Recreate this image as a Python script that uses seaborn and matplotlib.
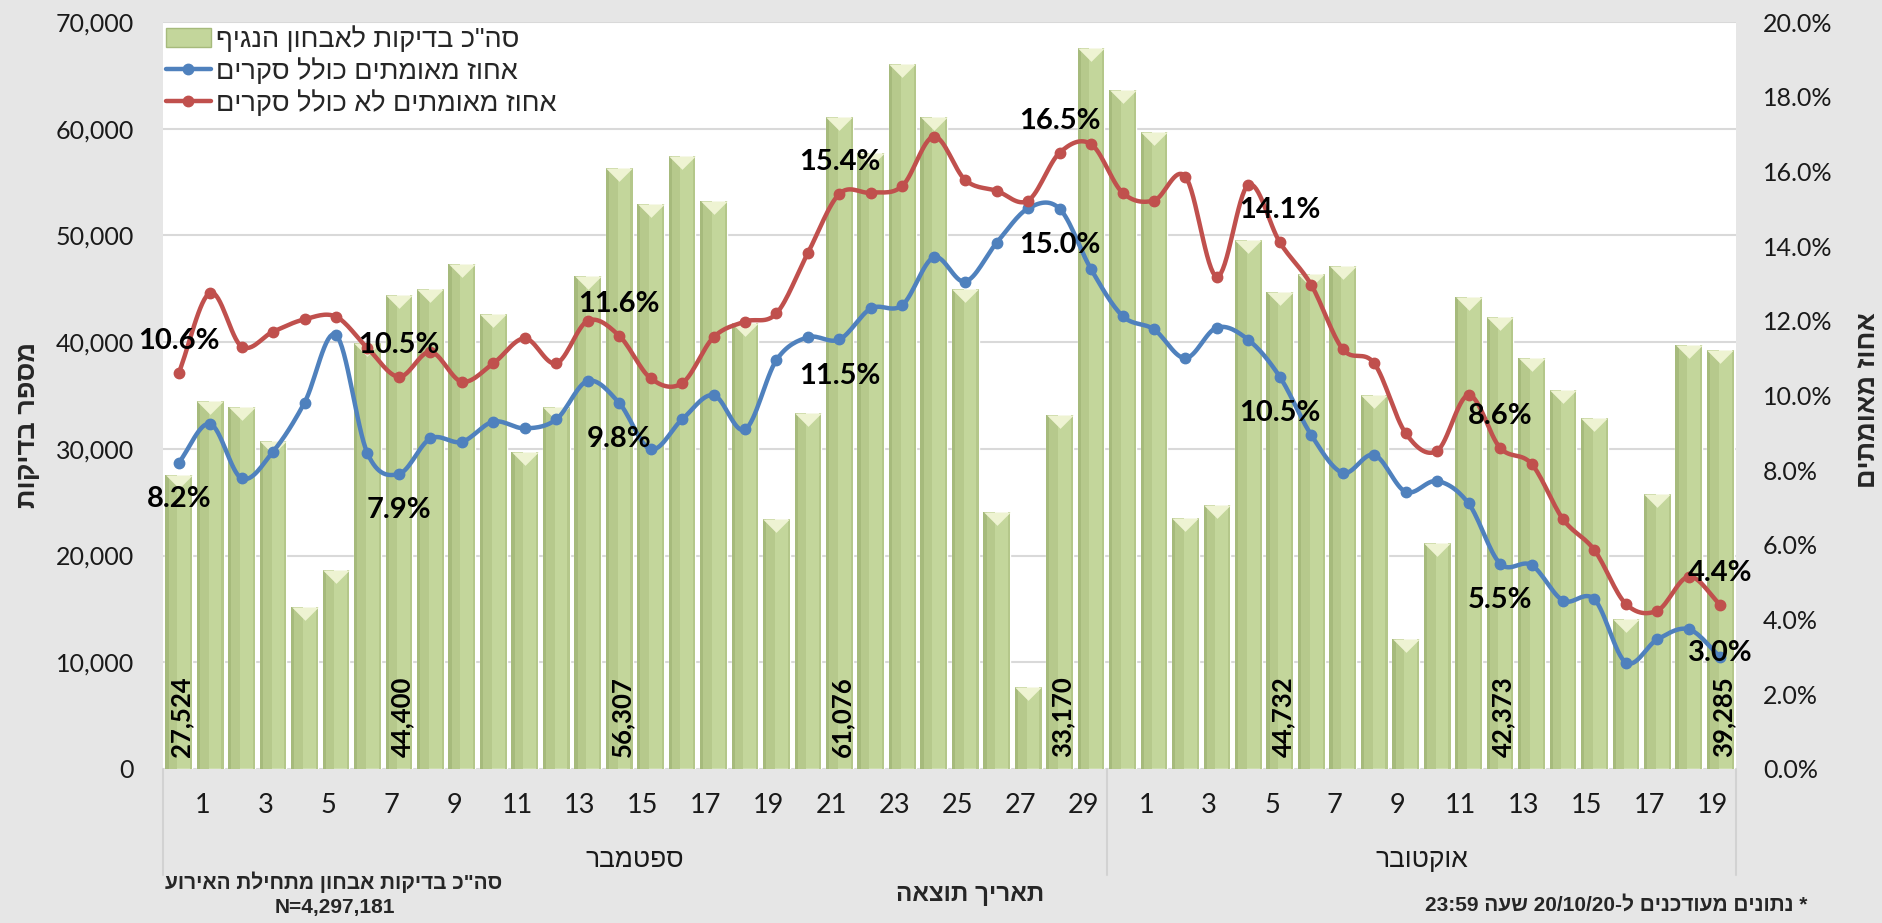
import re
import numpy as np
import matplotlib
matplotlib.use("Agg")
import matplotlib.pyplot as plt
import matplotlib.transforms as mtransforms
from matplotlib.patches import Patch
from matplotlib.lines import Line2D
from matplotlib.font_manager import FontProperties
import seaborn as sns

# ---------------- data ----------------
months = ["ספטמבר", "אוקטובר"]
month_days = [30, 20]

tests = [27524, 34500, 33900, 30700, 15200, 18650, 39900, 44400, 45000, 47300,
         42600, 29700, 33900, 46200, 56307, 52900, 57400, 53200, 41800, 23400,
         33400, 61076, 57700, 66100, 61100, 45000, 24100, 7650, 33170, 67600,
         63600, 59700, 23500, 24700, 49600, 44732, 46400, 47100, 35050, 12200,
         21200, 44200, 42373, 38500, 35500, 32900, 14100, 25800, 39700, 39285]

pct_excl_surveys = [10.6, 12.75, 11.31, 11.71, 12.04, 12.11, 11.27, 10.5, 11.17, 10.37,
                    10.86, 11.53, 10.86, 12.0, 11.6, 10.46, 10.33, 11.56, 11.98, 12.2,
                    13.82, 15.4, 15.43, 15.61, 16.93, 15.77, 15.48, 15.22, 16.5, 16.73,
                    15.43, 15.22, 15.86, 13.18, 15.64, 14.1, 12.96, 11.24, 10.86, 8.99,
                    8.52, 10.01, 8.6, 8.17, 6.69, 5.86, 4.42, 4.24, 5.15, 4.4]

pct_incl_surveys = [8.2, 9.24, 7.78, 8.5, 9.81, 11.62, 8.45, 7.9, 8.85, 8.76,
                    9.3, 9.12, 9.36, 10.39, 9.8, 8.56, 9.36, 10.01, 9.09, 10.95,
                    11.56, 11.5, 12.33, 12.42, 13.7, 13.05, 14.09, 15.01, 15.0, 13.38,
                    12.13, 11.77, 11.0, 11.82, 11.49, 10.5, 8.94, 7.93, 8.41, 7.42,
                    7.71, 7.11, 5.5, 5.46, 4.51, 4.54, 2.85, 3.47, 3.74, 3.0]

label_every = 7  # data labels shown every 7th day

legend_labels = ['סה"כ בדיקות לאבחון הנגיף', "אחוז מאומתים כולל סקרים", "אחוז מאומתים לא כולל סקרים"]
left_title = "מספר בדיקות"
right_title = "אחוז מאומתים"
x_title = "תאריך תוצאה"
note_total = 'סה"כ בדיקות אבחון מתחילת האירוע'
note_n = "N=4,297,181"
note_update = "* נתונים מעודכנים ל-20/10/20 שעה 23:59"

# ---------------- helpers ----------------
def rtl(s):
    tokens = re.findall(r'[0-9A-Za-z:/.,=%]+|[^0-9A-Za-z:/.,=%]+', s)
    out = []
    for t in reversed(tokens):
        if re.match(r'[0-9A-Za-z]', t):
            out.append(t)
        else:
            out.append(t[::-1])
    return "".join(out)


def smooth(y, n=16):
    y = np.asarray(y, float)
    x = np.arange(len(y), dtype=float)
    xs, ys = [], []
    for i in range(len(y) - 1):
        p0 = y[i - 1] if i > 0 else y[i]
        p1, p2 = y[i], y[i + 1]
        p3 = y[i + 2] if i + 2 < len(y) else y[i + 1]
        m1 = (p2 - p0) / (2 if i > 0 else 1)
        m2 = (p3 - p1) / (2 if i + 2 < len(y) else 1)
        t = np.linspace(0, 1, n, endpoint=False)
        h00 = 2 * t**3 - 3 * t**2 + 1
        h10 = t**3 - 2 * t**2 + t
        h01 = -2 * t**3 + 3 * t**2
        h11 = t**3 - t**2
        ys.extend(h00 * p1 + h10 * m1 + h01 * p2 + h11 * m2)
        xs.extend(x[i] + t)
    xs.append(x[-1]); ys.append(y[-1])
    return np.array(xs), np.array(ys)


# ---------------- style ----------------
sns.set_style("white")
plt.rcParams["font.family"] = ["Lato", "DejaVu Sans"]
HEB = ["Liberation Sans", "DejaVu Sans"]
BG = "#e6e6e6"
GREEN = "#c3d69b"
BLUE = "#4f81bd"
RED = "#c0504d"

W, H = 1883, 923
fig = plt.figure(figsize=(W / 100, H / 100), dpi=100)
fig.patch.set_facecolor(BG)
ax = fig.add_axes([163 / W, 1 - 769 / H, (1736 - 163) / W, (769 - 22) / H])
ax.set_facecolor("white")

n = len(tests)
idx = np.arange(n)
bw = 0.85

sns.barplot(x=idx, y=tests, color=GREEN, saturation=1, width=bw, ax=ax, zorder=2)
# bevel shading
ax.bar(idx - bw / 2 + bw * 0.06, tests, width=bw * 0.12, color="#a6ba7c", zorder=2.1, linewidth=0)
ax.bar(idx - bw / 2 + bw * 0.12 + bw * 0.16, tests, width=bw * 0.32, color="#b6c98c", zorder=2.1, linewidth=0)
ax.bar(idx + bw / 2 - bw * 0.04, tests, width=bw * 0.08, color="#b4c78a", zorder=2.1, linewidth=0)
tri = [(-1, 0), (1, 0), (0, -1)]
ax.plot(idx, tests, linestyle="none", marker=tri, markersize=bw * 31.47 * 0.72,
        color="#eef3d2", markeredgewidth=0, zorder=2.2)

ax.set_xlim(-0.5, n - 0.5)
ax.set_ylim(0, 70000)
ax.set_yticks(range(0, 70001, 10000))
ax.set_yticklabels([f"{v:,}" for v in range(0, 70001, 10000)], fontsize=18, color="#1a1a1a")
ax.yaxis.grid(True, color="#d9d9d9", linewidth=1.5)
ax.set_axisbelow(True)
ax.tick_params(axis="y", length=0, pad=21)
ax.set_ylabel("")
for s in ax.spines.values():
    s.set_visible(False)

# x tick labels (odd days of each month)
tick_pos, tick_lab = [], []
start = 0
for m, nd in zip(months, month_days):
    for d in range(1, nd + 1, 2):
        tick_pos.append(start + d - 1 + 0.75)
        tick_lab.append(str(d))
    start += nd
ax.set_xticks(tick_pos)
ax.set_xticklabels(tick_lab, fontsize=19.5, color="#1a1a1a")
ax.tick_params(axis="x", length=0, pad=17)
ax.set_xlabel("")

# month labels and separators
trans = mtransforms.blended_transform_factory(ax.transData, ax.transAxes)
start = 0
bounds = [-0.5]
for m, nd in zip(months, month_days):
    ax.text(start + (nd - 1) / 2, -0.122, rtl(m), transform=trans, ha="center", va="center",
            fontsize=19, family=HEB, color="#1a1a1a")
    start += nd
    bounds.append(start - 0.5)
for b in bounds:
    ax.plot([b, b], [0, -0.142], transform=trans, color="#d2d2d2", lw=1.5, clip_on=False, zorder=1)

# bar value labels
for i in range(0, n, label_every):
    ax.annotate(f"{tests[i]:,}", xy=(i, 0), xytext=(2, 8.5), textcoords="offset points",
                rotation=90, ha="center", va="bottom", fontsize=18.5, fontweight="bold",
                color="black", zorder=5)

# percentage lines
ax2 = ax.twinx()
ax2.set_ylim(0, 20)
ax2.set_yticks(range(0, 21, 2))
ax2.set_yticklabels([f"{v:.1f}%" for v in range(0, 21, 2)], fontsize=18, color="#1a1a1a")
ax2.tick_params(axis="y", length=0, pad=19.5)
ax2.grid(False)
for s in ax2.spines.values():
    s.set_visible(False)

for series, col in [(pct_incl_surveys, BLUE), (pct_excl_surveys, RED)]:
    xs, ys = smooth(series)
    sns.lineplot(x=xs, y=ys, sort=False, estimator=None, color=col, lw=3.2, ax=ax2, zorder=3)
    ax2.plot(idx, series, linestyle="none", marker="o", markersize=7.5, color=col, zorder=4)

label_style = {"red": 23, "blue": -26, "blue_last": 3}
for i in range(0, n, label_every):
    ax2.annotate(f"{pct_excl_surveys[i]:.1f}%", xy=(i, pct_excl_surveys[i]),
                 xytext=(0, label_style["red"]), textcoords="offset points",
                 ha="center", va="center", fontsize=21, fontweight="bold", color="black", zorder=6)
    off = label_style["blue_last"] if i == n - 1 else label_style["blue"]
    ax2.annotate(f"{pct_incl_surveys[i]:.1f}%", xy=(i, pct_incl_surveys[i]),
                 xytext=(0, off), textcoords="offset points",
                 ha="center", va="center", fontsize=21, fontweight="bold", color="black", zorder=6)

# legend
handles = [Patch(facecolor=GREEN, edgecolor="#a6ba7c"),
           Line2D([0], [0], color=BLUE, lw=3.2, marker="o", markersize=7.5),
           Line2D([0], [0], color=RED, lw=3.2, marker="o", markersize=7.5)]
ax2.legend(handles, [rtl(t) for t in legend_labels], loc="upper left",
           bbox_to_anchor=(0.002, 0.995), frameon=False, prop=FontProperties(family=HEB, size=19.5),
           handlelength=1.65, handletextpad=0.2, labelspacing=0.2, borderpad=0, borderaxespad=0)

# titles and notes
fig.text(28 / W, 1 - 425 / H, rtl(left_title), rotation=90, ha="center", va="center",
         fontsize=19.5, fontweight="bold", family=HEB)
fig.text(1868 / W, 1 - 400 / H, rtl(right_title), rotation=90, ha="center", va="center",
         fontsize=19.5, fontweight="bold", family=HEB)
fig.text(970 / W, 1 - 895 / H, rtl(x_title), ha="center", va="center",
         fontsize=17.5, fontweight="bold", family=HEB)
fig.text(334 / W, 1 - 882 / H, rtl(note_total), ha="center", va="center",
         fontsize=15, fontweight="bold", family=HEB)
fig.text(335 / W, 1 - 908 / H, note_n, ha="center", va="center",
         fontsize=15, fontweight="bold", family=HEB)
fig.text(1616 / W, 1 - 905 / H, rtl(note_update), ha="center", va="center",
         fontsize=15, fontweight="bold", family=HEB)

fig.savefig("out.png", dpi=100, facecolor=BG)
